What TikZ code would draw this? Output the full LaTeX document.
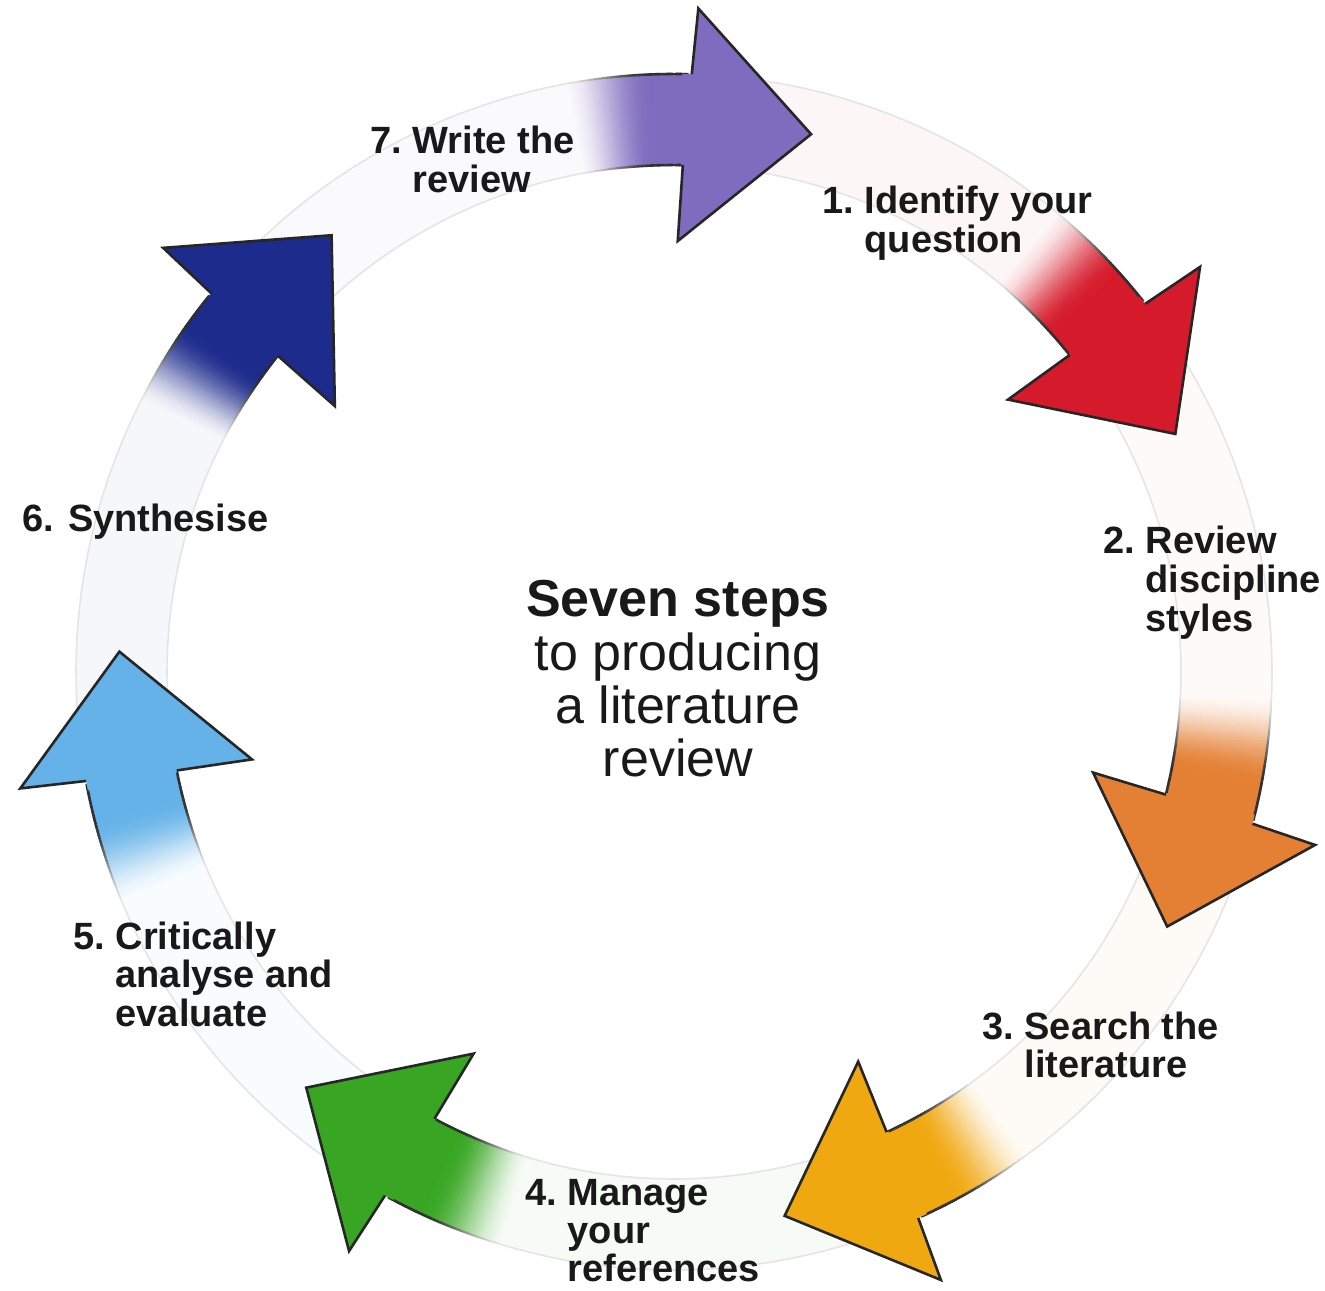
\documentclass[tikz,border=0pt]{standalone}
\usepackage{fontspec}
\setmainfont{Liberation Sans}
\definecolor{cpurple}{HTML}{7F6CBE}
\definecolor{cred}{HTML}{D51B2B}
\definecolor{corange}{HTML}{E48034}
\definecolor{cyellow}{HTML}{F0A810}
\definecolor{cgreen}{HTML}{38A623}
\definecolor{clblue}{HTML}{64B2E8}
\definecolor{cdblue}{HTML}{1C2B8C}
\tikzset{
  headline/.style={draw=black!85,line width=1.3pt,line join=miter},
  edgefaint/.style={draw=black!10,line width=0.8pt},
  steplabel/.style={anchor=base west,inner sep=0pt,text=black!90,font={\fontsize{19}{19}\selectfont\bfseries}},
  centrelabel/.style={anchor=base,inner sep=0pt,text=black!90,font={\fontsize{26}{26}\selectfont}}
}
\begin{document}
\begin{tikzpicture}[x=0.5pt,y=0.5pt]
\fill[white] (0,0) rectangle (1325,1290);
\useasboundingbox (0,0) rectangle (1325,1290);
\coordinate (C) at (674,618);
\begin{scope}[shift={(C)}]
% ring bands
\foreach \T/\Tp/\c in {75.7/128.1/cpurple,25.4/75.7/cred,-27.3/25.4/corange,-78.5/-27.3/cyellow,-131.5/-78.5/cgreen,-182.1/-131.5/clblue,-231.9/-182.1/cdblue}{
  \pgfmathsetmacro{\B}{\T+12.9}
  \pgfmathsetmacro{\fa}{\B+13.9}
  \pgfmathsetmacro{\fb}{\Tp+12.9}
  \fill[\c!4!white] (\fa:507) arc[start angle=\fa,end angle=\fb,radius=507] -- (\fb:598) arc[start angle=\fb,end angle=\fa,radius=598] -- cycle;
  \draw[edgefaint] (\fa:598) arc[start angle=\fa,end angle=\fb,radius=598];
  \draw[edgefaint] (\fa:507) arc[start angle=\fa,end angle=\fb,radius=507];
  \foreach \i in {0,...,55}{
    \pgfmathsetmacro{\aa}{\B+\i*0.25}
    \pgfmathsetmacro{\ab}{\aa+0.32}
    \pgfmathsetmacro{\s}{min(max((\i*0.25+0.12-3.8)/8.5,0),1)}
    \pgfmathtruncatemacro{\p}{4+96*(1-(3*\s*\s-2*\s*\s*\s))}
    \pgfmathtruncatemacro{\q}{10+72*(\p-4)/96}
    \pgfmathsetmacro{\lw}{0.8+0.5*(\p-4)/96}
    \fill[\c!\p!white] (\aa:507) arc[start angle=\aa,end angle=\ab,radius=507] -- (\ab:598) arc[start angle=\ab,end angle=\aa,radius=598] -- cycle;
    \draw[black!\q,line width=\lw pt] (\aa:598) arc[start angle=\aa,end angle=\ab,radius=598];
    \draw[black!\q,line width=\lw pt] (\aa:507) arc[start angle=\aa,end angle=\ab,radius=507];
  }
}
% arrow heads
\foreach \T/\c in {75.7/cpurple,25.4/cred,-27.3/corange,-78.5/cyellow,-131.5/cgreen,-182.1/clblue,-231.9/cdblue}{
  \pgfmathsetmacro{\B}{\T+12.9}
  \pgfmathsetmacro{\Bo}{\B-0.7}
  \pgfmathsetmacro{\Bi}{\B+0.9}
  \pgfmathsetmacro{\Bon}{\B-0.3}
  \pgfmathsetmacro{\Bin}{\B+0.4}
  \pgfmathsetmacro{\Bf}{\B+0.6}
  \fill[\c] (\Bo:664) -- (\T:555) -- (\Bi:431) -- (\Bin:507) -- (\Bf:507) -- (\Bf:598) -- (\Bon:598) -- cycle;
  \draw[headline] (\Bon:598) -- (\Bo:664) -- (\T:555) -- (\Bi:431) -- (\Bin:507);
}
\end{scope}
% labels
\node[steplabel] (s7) at (370,1136) {\begin{tabular}[t]{@{}l@{\ }l@{}}7. & Write the\\ & review\end{tabular}};
\node[steplabel] (s1) at (822,1076) {\begin{tabular}[t]{@{}l@{\ }l@{}}1. & Identify your\\ & question\end{tabular}};
\node[steplabel] (s2) at (1103,736) {\begin{tabular}[t]{@{}l@{\ }l@{}}2. & Review\\ & discipline\\ & styles\end{tabular}};
\node[steplabel] (s3) at (982,251) {\begin{tabular}[t]{@{}l@{\ }l@{}}3. & Search the\\ & literature\end{tabular}};
\node[steplabel] (s4) at (525,85) {\begin{tabular}[t]{@{}l@{\ }l@{}}4. & Manage\\ & your\\ & references\end{tabular}};
\node[steplabel] (s5) at (73,341) {\begin{tabular}[t]{@{}l@{\ }l@{}}5. & Critically\\ & analyse and\\ & evaluate\end{tabular}};
\node[steplabel] (s6) at (22,758) {6. Synthesise};
\node[centrelabel] (title) at (678,673) {\begin{tabular}[t]{@{}c@{}}\bfseries Seven steps\\to producing\\a literature\\review\end{tabular}};
\end{tikzpicture}
\end{document}
